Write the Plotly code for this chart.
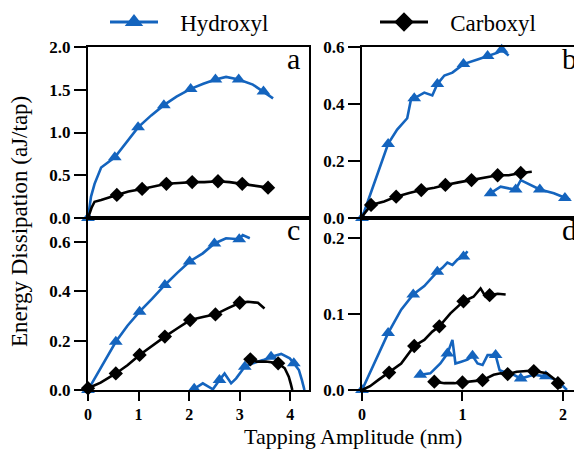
import plotly.graph_objects as go

BLUE = "#1464be"
BLACK = "#000000"

# ---------------- data ----------------
# panel a
hA_x = [0, 0.06, 0.13, 0.26, 0.53, 0.79, 0.99, 1.25, 1.50, 1.75, 2.03, 2.28, 2.52, 2.73, 2.98, 3.26, 3.47, 3.66]
hA_y = [0, 0.25, 0.40, 0.59, 0.71, 0.90, 1.06, 1.20, 1.32, 1.42, 1.51, 1.57, 1.62, 1.65, 1.62, 1.56, 1.48, 1.40]
hA_m = [0, 4, 6, 8, 10, 12, 14, 16]
cA_x = [0, 0.07, 0.13, 0.26, 0.57, 0.80, 1.07, 1.30, 1.55, 1.80, 2.06, 2.30, 2.57, 2.80, 3.05, 3.30, 3.56]
cA_y = [0, 0.12, 0.19, 0.21, 0.27, 0.31, 0.34, 0.37, 0.40, 0.41, 0.42, 0.42, 0.43, 0.42, 0.40, 0.38, 0.355]
cA_m = [4, 6, 8, 10, 12, 14, 16]

# panel b
hB_x = [0, 0.13, 0.26, 0.35, 0.45, 0.49, 0.52, 0.62, 0.70, 0.75, 0.82, 0.90, 1.01, 1.15, 1.25, 1.35, 1.39, 1.46]
hB_y = [0, 0.13, 0.26, 0.31, 0.35, 0.42, 0.42, 0.44, 0.43, 0.47, 0.50, 0.51, 0.54, 0.556, 0.568, 0.58, 0.59, 0.57]
hB_m = [0, 2, 6, 9, 12, 14, 16]
hB2_x = [1.28, 1.38, 1.46, 1.53, 1.58, 1.68, 1.77, 1.91, 2.02, 2.07]
hB2_y = [0.087, 0.11, 0.104, 0.10, 0.133, 0.116, 0.10, 0.087, 0.07, 0.064]
hB2_m = [0, 3, 6, 8]
cB_x = [0, 0.09, 0.22, 0.34, 0.47, 0.59, 0.72, 0.83, 0.96, 1.09, 1.22, 1.35, 1.46, 1.58, 1.69]
cB_y = [0.005, 0.046, 0.058, 0.075, 0.088, 0.098, 0.106, 0.116, 0.125, 0.133, 0.14, 0.15, 0.15, 0.158, 0.162]
cB_m = [1, 3, 5, 7, 9, 11, 13]

# panel c
hC_x = [0, 0.25, 0.55, 0.78, 1.02, 1.27, 1.52, 1.77, 2.01, 2.27, 2.50, 2.73, 2.99, 3.06, 3.2]
hC_y = [0, 0.09, 0.195, 0.26, 0.317, 0.37, 0.425, 0.475, 0.52, 0.553, 0.593, 0.614, 0.61, 0.627, 0.614]
hC_m = [0, 2, 4, 6, 8, 10, 12]
cC_x = [0, 0.25, 0.55, 0.78, 1.02, 1.27, 1.52, 1.77, 2.02, 2.27, 2.52, 2.76, 3.0, 3.16, 3.36, 3.49]
cC_y = [0.007, 0.03, 0.067, 0.10, 0.142, 0.18, 0.216, 0.25, 0.283, 0.295, 0.306, 0.33, 0.353, 0.357, 0.353, 0.33]
cC_m = [0, 2, 4, 6, 8, 10, 12]
hC2_x = [2.04, 2.10, 2.27, 2.40, 2.47, 2.60, 2.70, 2.83, 2.93, 3.10, 3.26, 3.46, 3.62, 3.68, 3.82, 3.99, 4.07, 4.17, 4.23, 4.28]
hC2_y = [0, 0.005, 0.027, 0.013, 0.003, 0.04, 0.067, 0.027, 0.047, 0.094, 0.108, 0.121, 0.135, 0.138, 0.146, 0.128, 0.108, 0.081, 0.04, 0]
hC2_m = [1, 5, 9, 12, 16]
cC2_x = [3.21, 3.33, 3.52, 3.76, 3.89, 3.97, 4.01, 4.04]
cC2_y = [0.124, 0.115, 0.115, 0.108, 0.088, 0.054, 0.025, 0]
cC2_m = [0, 3]

# panel d
hD_x = [0, 0.13, 0.26, 0.39, 0.51, 0.62, 0.75, 0.80, 0.85, 0.90, 0.95, 1.01, 1.05]
hD_y = [0, 0.038, 0.075, 0.106, 0.126, 0.137, 0.156, 0.161, 0.168, 0.165, 0.172, 0.176, 0.183]
hD_m = [0, 2, 4, 6, 11]
cD_x = [0, 0.08, 0.16, 0.27, 0.39, 0.52, 0.62, 0.70, 0.77, 0.88, 1.01, 1.11, 1.18, 1.23, 1.27, 1.35, 1.43]
cD_y = [0, 0.005, 0.013, 0.023, 0.035, 0.058, 0.066, 0.077, 0.084, 0.101, 0.117, 0.123, 0.134, 0.123, 0.125, 0.127, 0.126]
cD_m = [3, 5, 8, 10, 14]
hD2_x = [0.58, 0.68, 0.78, 0.85, 0.90, 0.93, 0.98, 1.05, 1.10, 1.15, 1.20, 1.25, 1.33, 1.37, 1.45, 1.51, 1.58, 1.71, 1.83, 1.94, 2.01, 2.04]
hD2_y = [0.020, 0.022, 0.035, 0.048, 0.066, 0.035, 0.037, 0.040, 0.045, 0.035, 0.033, 0.046, 0.046, 0.026, 0.022, 0.020, 0.015, 0.020, 0.018, 0.013, 0.004, 0]
hD2_m = [0, 3, 8, 12, 16, 18]
cD2_x = [0.72, 0.82, 0.92, 1.0, 1.11, 1.20, 1.31, 1.38, 1.45, 1.54, 1.64, 1.71, 1.84, 1.91, 1.95, 1.98]
cD2_y = [0.011, 0.009, 0.009, 0.010, 0.011, 0.013, 0.020, 0.022, 0.021, 0.024, 0.025, 0.025, 0.022, 0.015, 0.009, 0.002]
cD2_m = [0, 3, 5, 8, 11, 14]

panel_letters = ["a", "b", "c", "d"]
series_names = ["Hydroxyl", "Carboxyl"]
x_title = "Tapping Amplitude (nm)"
y_title = "Energy Dissipation (aJ/tap)"

# ---------------- figure ----------------
fig = go.Figure()

def add_series(xs, ys, mk, color, symbol, msize, xa, ya):
    fig.add_trace(go.Scatter(x=xs, y=ys, mode="lines", line=dict(color=color, width=2.6),
                             xaxis=xa, yaxis=ya, showlegend=False, cliponaxis=False,
                             hoverinfo="skip"))
    fig.add_trace(go.Scatter(x=[xs[i] for i in mk], y=[ys[i] for i in mk], mode="markers",
                             marker=dict(color=color, symbol=symbol, size=msize, line=dict(width=0)),
                             xaxis=xa, yaxis=ya, showlegend=False, cliponaxis=False,
                             hoverinfo="skip"))

H = (BLUE, "triangle-up", 12)
C = (BLACK, "diamond", 11)

add_series(hA_x, hA_y, hA_m, *H, "x", "y")
add_series(cA_x, cA_y, cA_m, *C, "x", "y")
add_series(hB_x, hB_y, hB_m, *H, "x2", "y2")
add_series(hB2_x, hB2_y, hB2_m, *H, "x2", "y2")
add_series(cB_x, cB_y, cB_m, *C, "x2", "y2")
add_series(hC_x, hC_y, hC_m, *H, "x3", "y3")
add_series(cC_x, cC_y, cC_m, *C, "x3", "y3")
add_series(hC2_x, hC2_y, hC2_m, *H, "x3", "y3")
add_series(cC2_x, cC2_y, cC2_m, *C, "x3", "y3")
add_series(hD_x, hD_y, hD_m, *H, "x4", "y4")
add_series(cD_x, cD_y, cD_m, *C, "x4", "y4")
add_series(hD2_x, hD2_y, hD2_m, *H, "x4", "y4")
add_series(cD2_x, cD2_y, cD2_m, *C, "x4", "y4")

# legend entries (non-breaking spaces widen the gap between symbol and label)
GAP = "\u00a0\u00a0\u00a0"
fig.add_trace(go.Scatter(x=[None], y=[None], mode="lines+markers", name=GAP + series_names[0],
                         line=dict(color=BLUE, width=3),
                         marker=dict(color=BLUE, symbol="triangle-up", size=16),
                         legend="legend"))
fig.add_trace(go.Scatter(x=[None], y=[None], mode="lines+markers", name=GAP + series_names[1],
                         line=dict(color=BLACK, width=3),
                         marker=dict(color=BLACK, symbol="diamond", size=15),
                         legend="legend2"))

SERIF = "Liberation Serif, Times New Roman, serif"
tickfont = dict(family=SERIF, size=17, color="black", weight="bold")
xtickfont = dict(family=SERIF, size=16, color="black", weight="bold")

# the page body adds an 8 px offset: work in screen pixels and convert
OFF = 8
W, Hh = 582 - OFF, 451 - OFF
def fx(px):
    return (px - OFF) / W
def fy(py):
    return 1 - (py - OFF) / Hh

xl1, xr1 = fx(88), fx(309)
xl2, xr2 = fx(362), fx(579)
yt, ym, yb = fy(47), fy(218), fy(390)

def ax(**kw):
    d = dict(showline=True, linewidth=2, linecolor="black", mirror=True,
             showgrid=False, zeroline=False, tickfont=tickfont, automargin=False,
             ticks="outside", ticklen=12, tickwidth=2, tickcolor="black")
    d.update(kw)
    return d

fig.update_layout(
    template="none",
    width=W, height=Hh,
    margin=dict(l=0, r=0, t=0, b=0, pad=0, autoexpand=False),
    paper_bgcolor="white", plot_bgcolor="white",
    font=dict(family=SERIF, color="black"),
    xaxis=ax(domain=[xl1, xr1], range=[0, 4.37], anchor="y", showticklabels=False, ticks=""),
    yaxis=ax(domain=[ym, yt], range=[0, 2.0], anchor="x", tickvals=[0, 0.5, 1.0, 1.5, 2.0], tickformat=".1f"),
    xaxis2=ax(domain=[xl2, xr2], range=[0, 2.16], anchor="y2", showticklabels=False, ticks=""),
    yaxis2=ax(domain=[ym, yt], range=[0, 0.6], anchor="x2", tickvals=[0, 0.2, 0.4, 0.6], tickformat=".1f"),
    xaxis3=ax(domain=[xl1, xr1], range=[0, 4.37], anchor="y3", tickvals=[0, 1, 2, 3, 4],
              ticklen=9, tickfont=xtickfont),
    yaxis3=ax(domain=[yb, ym], range=[0, 0.696], anchor="x3", tickvals=[0, 0.2, 0.4, 0.6], tickformat=".1f"),
    xaxis4=ax(domain=[xl2, xr2], range=[0, 2.16], anchor="y4", tickvals=[0, 1, 2],
              ticklen=9, tickfont=xtickfont),
    yaxis4=ax(domain=[yb, ym], range=[0, 0.2268], anchor="x4", tickvals=[0, 0.1, 0.2], tickformat=".1f"),
    legend=dict(x=fx(105), y=fy(22), xanchor="left", yanchor="middle", orientation="h",
                bgcolor="rgba(0,0,0,0)", borderwidth=0, itemwidth=48,
                font=dict(family=SERIF, size=23, color="black")),
    legend2=dict(x=fx(375), y=fy(22), xanchor="left", yanchor="middle", orientation="h",
                 bgcolor="rgba(0,0,0,0)", borderwidth=0, itemwidth=48,
                 font=dict(family=SERIF, size=23, color="black")),
)

annotations = []
letter_xshift = [-4, 3, -4, 3]
for letter, xr, yr, xs in zip(panel_letters, ["x", "x2", "x3", "x4"], ["y", "y2", "y3", "y4"], letter_xshift):
    annotations.append(dict(text=letter, xref=xr + " domain", yref=yr + " domain",
                            x=0.985, y=1.0, xanchor="right", yanchor="top", yshift=7, xshift=xs,
                            showarrow=False, font=dict(family=SERIF, size=30, color="black")))
annotations.append(dict(text=x_title, xref="paper", yref="paper", x=fx(353), y=fy(451),
                        xanchor="center", yanchor="bottom", showarrow=False,
                        font=dict(family=SERIF, size=22, color="black")))
annotations.append(dict(text=y_title, xref="paper", yref="paper", x=fx(20), y=fy(222),
                        xanchor="center", yanchor="middle", textangle=-90, showarrow=False,
                        font=dict(family=SERIF, size=23, color="black")))
fig.update_layout(annotations=annotations)

fig.write_html("out.html")
